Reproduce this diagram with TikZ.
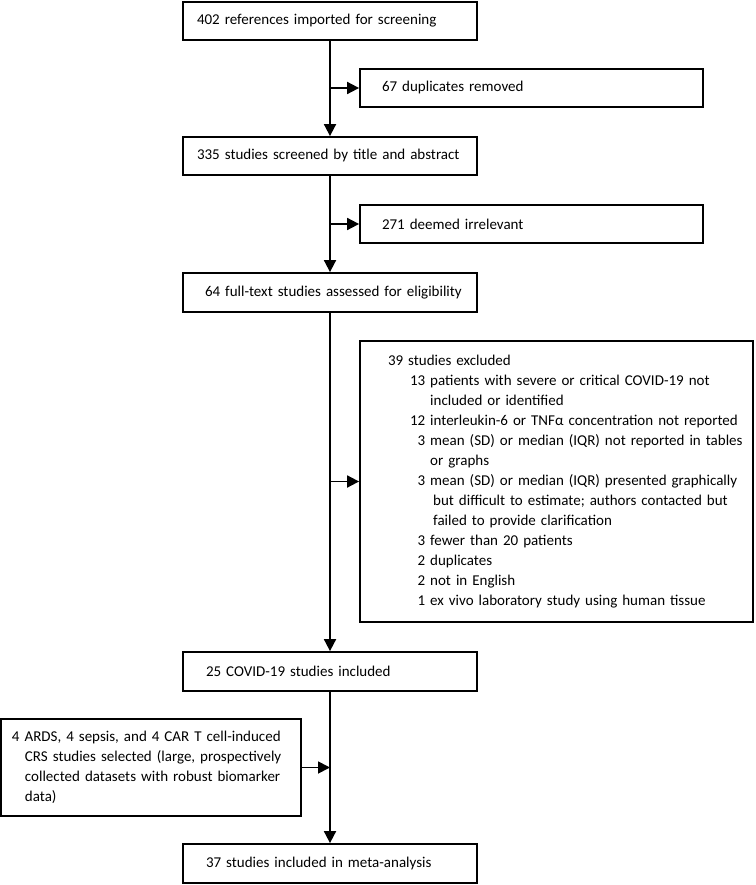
\documentclass[tikz,border=0pt]{standalone}
\usepackage{fontspec}
\setmainfont{Carlito}
\usetikzlibrary{arrows.meta}
\begin{document}
\begin{tikzpicture}[x=1pt,y=-1pt,
  every node/.style={font=\fontsize{15}{20}\selectfont},
  box/.style={draw, line width=1.8pt, rectangle, inner ysep=0pt, align=left, minimum height=#1},
  box/.default=38pt,
  flow/.style={line width=1.8pt, -{Triangle[length=12pt,width=12pt]}}]
\useasboundingbox (0,0) rectangle (755,885);

\node[box, inner xsep=14pt, text width=266pt] (b1) at (330,21) {402 references imported for screening};
\node[box, inner xsep=22pt, text width=299pt] (b2) at (531.5,88) {67 duplicates removed};
\node[box, inner xsep=14pt, text width=266pt] (b3) at (330,156) {335 studies screened by title and abstract};
\node[box, inner xsep=22pt, text width=299pt] (b4) at (531.5,224) {271 deemed irrelevant};
\node[box=39pt, inner xsep=14pt, text width=266pt] (b5) at (330,292.5) {\hspace*{8pt}64 full-text studies assessed for eligibility};
\node[box=281pt, inner xsep=28pt, text width=337pt] (ex) at (556.5,481.5) {%
\begin{tabular}{@{\hspace{22pt}}r@{\ }l@{}}
\multicolumn{2}{@{}l@{}}{39 studies excluded}\\
13 & patients with severe or critical COVID-19 not\\
   & included or identified\\
12 & interleukin-6 or TNFα concentration not reported\\
3 & mean (SD) or median (IQR) not reported in tables\\
  & or graphs\\
3 & mean (SD) or median (IQR) presented graphically\\
  & \hspace{3pt}but difficult to estimate; authors contacted but\\
  & \hspace{3pt}failed to provide clarification\\
3 & fewer than 20 patients\\
2 & duplicates\\
2 & not in English\\
1 & ex vivo laboratory study using human tissue
\end{tabular}};
\node[box=39pt, inner xsep=14pt, text width=266pt] (b6) at (330,671.5) {\hspace*{9pt}25 COVID-19 studies included};
\node[box=97pt, inner xsep=11pt, text width=278pt] (lb) at (151,767.5) {4 ARDS, 4 sepsis, and 4 CAR T cell-induced\\
\hspace*{13pt}CRS studies selected (large, prospectively\\
\hspace*{13pt}collected datasets with robust biomarker\\
\hspace*{13pt}data)};
\node[box=39pt, inner xsep=14pt, text width=266pt] (b7) at (330,863.5) {\hspace*{9pt}37 studies included in meta-analysis};

\coordinate (j1) at (330,88);
\coordinate (j2) at (330,224);
\coordinate (j3) at (330,481.5);
\coordinate (j4) at (330,767.5);

\draw[flow] (b1.south) -- (b3.north);
\draw[flow] (j1) -- (b2.west);
\draw[flow] (b3.south) -- (b5.north);
\draw[flow] (j2) -- (b4.west);
\draw[flow] (b5.south) -- (b6.north);
\draw[flow] (j3) -- (ex.west);
\draw[flow] (b6.south) -- (b7.north);
\draw[flow] (lb.east) -- (j4);
\end{tikzpicture}
\end{document}
